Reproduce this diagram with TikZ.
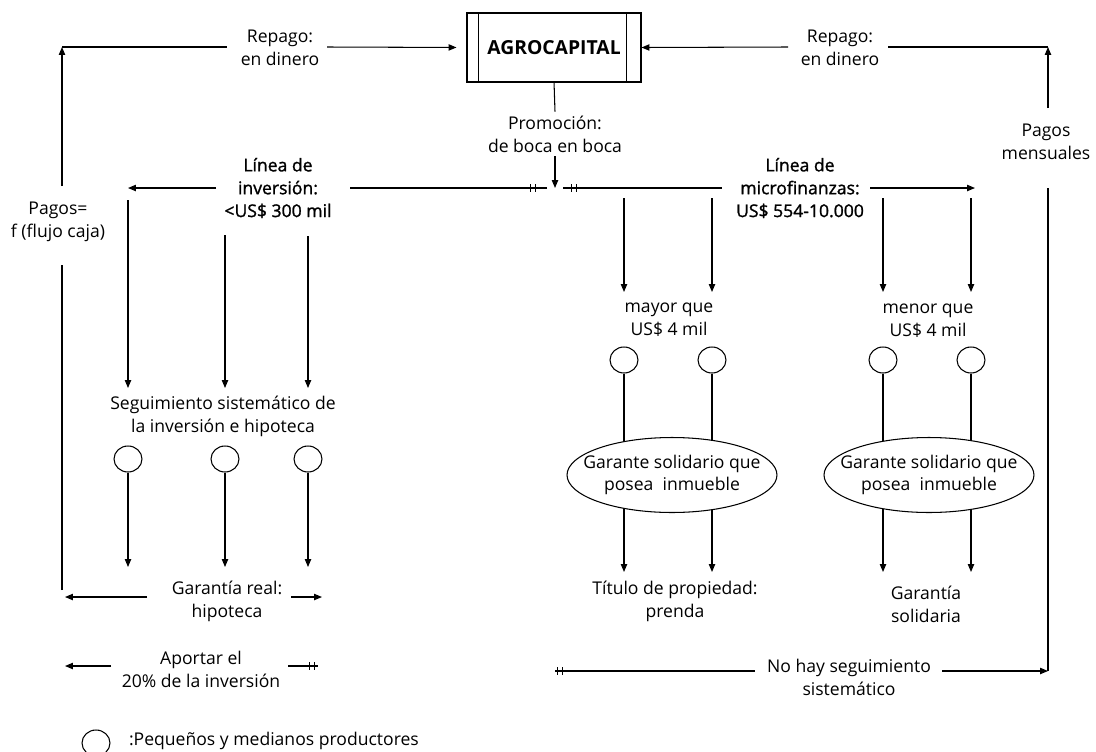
\documentclass[tikz,border=0pt]{standalone}
\usepackage{fontspec}
\setmainfont{Open Sans}
\newfontfamily\medfont[FakeBold=1.3]{Open Sans}
\usepackage{tikz}
\usetikzlibrary{arrows.meta, shapes.geometric, calc}

\tikzset{
  txt/.style={align=center, font=\fontsize{10}{13}\selectfont, inner sep=2pt},
  linea/.style={txt, font=\medfont\fontsize{10}{13}\selectfont},
  prod/.style={draw, ellipse, minimum width=0.56cm, minimum height=0.52cm, inner sep=0pt},
  garante/.style={draw, fill=white, ellipse, minimum width=4.2cm, minimum height=1.5cm,
    inner xsep=-0.4cm, inner ysep=0pt, align=center, font=\fontsize{10}{13}\selectfont},
  arr/.style={-{Triangle[length=4.5pt,width=3.6pt]}},
  dbltick/.pic={\draw (-2.5,-4) -- (-2.5,4) (2.5,-4) -- (2.5,4);}
}

\begin{document}
\begin{tikzpicture}[x=0.02cm, y=-0.02cm, line width=0.6pt]
  \useasboundingbox (0,0) rectangle (1096,751);

  % caja central
  \node[draw, minimum width=3.48cm, minimum height=1.38cm,
    font=\bfseries\fontsize{11}{13}\selectfont] (agro) at (554,47.5) {AGROCAPITAL};
  \draw ([xshift=0.24cm]agro.north west) -- ([xshift=0.24cm]agro.south west);
  \draw ([xshift=-0.3cm]agro.north east) -- ([xshift=-0.3cm]agro.south east);

  % textos
  \node[txt] (repL) at (280,48) {Repago:\\en dinero};
  \node[txt] (repR) at (840,48) {Repago:\\en dinero};
  \node[txt] (promo) at (555,134) {Promoción:\\de boca en boca};
  \node[linea] (linInv) at (278,188) {Línea de\\inversión:\\<US\$ 300 mil};
  \node[linea] (linMic) at (800,188) {Línea de\\microfinanzas:\\US\$ 554-10.000};
  \node[txt] (pagosL) at (58,222) {Pagos=\\f (flujo caja)};
  \node[txt] (pagosR) at (1046,142) {Pagos\\mensuales};
  \node[txt] (seg) at (223,416) {Seguimiento sistemático de\\la inversión e hipoteca};
  \node[txt] (mayor) at (669,320) {mayor que\\US\$ 4 mil};
  \node[txt] (menor) at (928,321) {menor que\\US\$ 4 mil};
  \node[txt] (garReal) at (227,601) {Garantía real:\\hipoteca};
  \node[txt] (titulo) at (675,601) {Título de propiedad:\\prenda};
  \node[txt] (garSol) at (926,604) {Garantía\\solidaria};
  \node[txt] (aportar) at (201,669) {Aportar el\\20\% de la inversión};
  \node[txt] (noHay) at (849,677) {No hay seguimiento\\sistemático};

  % puntos de los conectores
  \coordinate (tlc) at (62,47);
  \coordinate (tlb) at (62,590);
  \coordinate (pl1) at (62,265);
  \coordinate (pl2) at (62,186);
  \coordinate (rl1) at (227,47);
  \coordinate (rl2) at (327,47);
  \coordinate (rr1) at (788,47);
  \coordinate (rr2) at (888,47);
  \coordinate (trc) at (1048,47);
  \coordinate (pr1) at (1048,108);
  \coordinate (pr2) at (1048,188);
  \coordinate (brc) at (1048,671);
  \coordinate (jn) at (555,188);
  \coordinate (jnL) at (547,188);
  \coordinate (jnR) at (563,188);
  \coordinate (li1) at (350,188);
  \coordinate (li2) at (216,188);
  \coordinate (li3) at (128,188);
  \coordinate (lm1) at (722,188);
  \coordinate (lm2) at (870,188);
  \coordinate (lm3) at (975,188);

  % repago
  \draw (tlb) -- (pl1);
  \draw[arr] (pl2) -- (tlc);
  \draw (tlc) -- (rl1);
  \draw[arr, shorten >=0.2cm] (rl2) -- (agro.west);
  \draw[arr] (rr1) -- (agro.east);
  \draw (rr2) -- (trc);
  \draw[arr] (pr1) -- (trc);
  \draw (pr2) -- (brc);

  % promocion y lineas de credito
  \draw ([yshift=0.02cm]agro.south) -- (promo.north);
  \draw[arr] (promo.south) -- (jn);
  \draw (jnL) -- (li1);
  \draw[arr] (li2) -- (li3);
  \draw (jnR) -- (lm1);
  \draw[arr] (lm2) -- (lm3);
  \pic at (533,188) {dbltick};
  \pic at (574,188) {dbltick};

  % linea de inversion
  \foreach \x/\y/\n in {128/200/a, 225/235/b, 308/236/c} {
    \coordinate (sa\n) at (\x,\y);
    \coordinate (ta\n) at (\x,388);
    \coordinate (ua\n) at (\x,567);
    \draw[arr] (sa\n) -- (ta\n);
    \node[prod] (p\n) at (\x,459) {};
    \draw[arr] (p\n.south) -- (ua\n);
  }
  \coordinate (gr1) at (147,597);
  \coordinate (gr2) at (65,597);
  \coordinate (gr3) at (291,597);
  \coordinate (gr4) at (322,597);
  \draw[arr] (gr1) -- (gr2);
  \draw[arr] (gr3) -- (gr4);
  \coordinate (ap1) at (111,666);
  \coordinate (ap2) at (65,666);
  \coordinate (ap3) at (288,666);
  \coordinate (ap4) at (318,666);
  \draw[arr] (ap1) -- (ap2);
  \draw (ap3) -- (ap4);
  \pic at (312,666) {dbltick};

  % linea de microfinanzas
  \foreach \x/\n in {624/d, 712/e, 883/f, 971/g} {
    \coordinate (sm\n) at (\x,198);
    \coordinate (tm\n) at (\x,292);
    \coordinate (um\n) at (\x,572);
    \draw[arr] (sm\n) -- (tm\n);
    \node[prod] (p\n) at (\x,360) {};
    \draw[arr] (p\n.south) -- (um\n);
  }
  \node[garante] (gar1) at (672,475) {Garante solidario que\\posea\ \ inmueble};
  \node[garante] (gar2) at (929,475) {Garante solidario que\\posea\ \ inmueble};

  \coordinate (nh1) at (555,671);
  \coordinate (nh2) at (755,671);
  \coordinate (nh3) at (942,671);
  \draw (nh1) -- (nh2);
  \draw[arr] (nh3) -- (brc);
  \pic at (560,671) {dbltick};

  % leyenda
  \node[prod] (leg) at (96,743) {};
  \node[txt, anchor=west] (legtxt) at (125,741) {:Pequeños y medianos productores};
\end{tikzpicture}
\end{document}
